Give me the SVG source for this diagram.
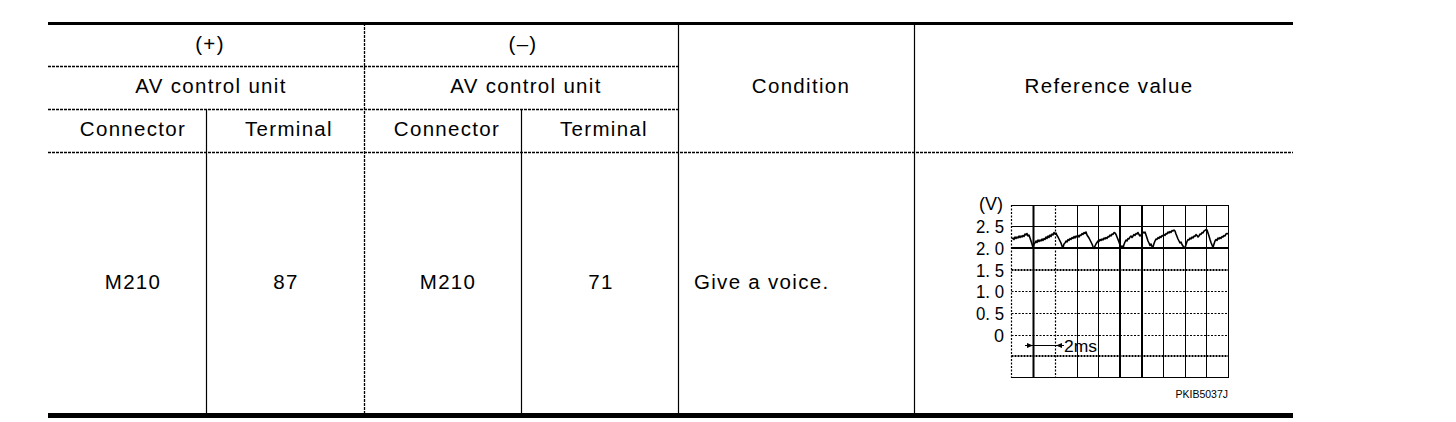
<svg xmlns="http://www.w3.org/2000/svg" width="1456" height="422" viewBox="0 0 1456 422">
<style>
.t{font-family:"Liberation Sans",Arial,sans-serif;font-size:20.5px;letter-spacing:1.3px;fill:#000;text-anchor:middle}
.l{text-anchor:start}
.ln{stroke:#000;stroke-width:1.2;fill:none}
.dot{stroke:#000;stroke-width:1.3;stroke-dasharray:3 1;fill:none}
.thick{stroke:#000;fill:none}
.g{stroke:#000;stroke-width:1;fill:none}
.gb{stroke:#000;stroke-width:2;fill:none}
.gd{stroke:#000;stroke-width:1.2;stroke-dasharray:2 1.5;fill:none}
.gdb{stroke:#000;stroke-width:2;stroke-dasharray:2 1;fill:none}
.ax{font-family:"Liberation Sans",Arial,sans-serif;font-size:18px;fill:#000;text-anchor:end}
</style>
<defs>
<marker id="ah" viewBox="0 0 10 10" refX="10" refY="5" markerWidth="6" markerHeight="6" orient="auto-start-reverse">
<path d="M0,1 L10,5 L0,9 z" fill="#000"/>
</marker>
</defs>
<rect width="1456" height="422" fill="#fff"/>
<g id="connectors">
<line class="thick" x1="48" y1="23.5" x2="1293" y2="23.5" stroke-width="3"/>
<line class="dot" x1="48" y1="66.5" x2="678" y2="66.5"/>
<line class="dot" x1="48" y1="109.5" x2="678" y2="109.5"/>
<line class="dot" x1="48" y1="152.5" x2="1293" y2="152.5"/>
<line class="thick" x1="48" y1="415.5" x2="1293" y2="415.5" stroke-width="5"/>
<line class="ln" x1="206.5" y1="109" x2="206.5" y2="413"/>
<line class="dot" x1="364.5" y1="23" x2="364.5" y2="413"/>
<line class="ln" x1="521.5" y1="109" x2="521.5" y2="413"/>
<line class="ln" x1="678.5" y1="23" x2="678.5" y2="413"/>
<line class="ln" x1="914.5" y1="23" x2="914.5" y2="413"/>
</g>
<g id="h-plus"><text class="t" x="210" y="51">(+)</text></g>
<g id="h-minus"><text class="t" x="523" y="51">(–)</text></g>
<g id="h-av1"><text class="t" x="211" y="93">AV control unit</text></g>
<g id="h-av2"><text class="t" x="526" y="93">AV control unit</text></g>
<g id="h-conn1"><text class="t" x="133" y="136">Connector</text></g>
<g id="h-term1"><text class="t" x="289" y="136">Terminal</text></g>
<g id="h-conn2"><text class="t" x="447" y="136">Connector</text></g>
<g id="h-term2"><text class="t" x="604" y="136">Terminal</text></g>
<g id="h-cond"><text class="t" x="801" y="93">Condition</text></g>
<g id="h-ref"><text class="t" x="1109" y="93">Reference value</text></g>
<g id="c-conn1"><text class="t" x="133" y="289">M210</text></g>
<g id="c-term1"><text class="t" x="286" y="289">87</text></g>
<g id="c-conn2"><text class="t" x="448" y="289">M210</text></g>
<g id="c-term2"><text class="t" x="601" y="289">71</text></g>
<g id="c-cond"><text class="t l" x="694" y="289">Give a voice.</text></g>
<g id="c-ref">
<g id="grid">
<line class="g" x1="1011.5" y1="205.5" x2="1228.5" y2="205.5"/>
<line class="g" x1="1011.5" y1="226.5" x2="1228.5" y2="226.5"/>
<line class="gb" x1="1011.5" y1="248" x2="1228.5" y2="248"/>
<line class="gdb" x1="1011.5" y1="270" x2="1228.5" y2="270"/>
<line class="gd" x1="1011.5" y1="291.5" x2="1228.5" y2="291.5"/>
<line class="gd" x1="1011.5" y1="313.5" x2="1228.5" y2="313.5"/>
<line class="gd" x1="1011.5" y1="335.5" x2="1228.5" y2="335.5"/>
<line class="gdb" x1="1011.5" y1="356" x2="1228.5" y2="356"/>
<line class="g" x1="1011.5" y1="377.5" x2="1228.5" y2="377.5"/>
<line class="gd" x1="1011.5" y1="205" x2="1011.5" y2="378"/>
<line class="gb" x1="1033.5" y1="205" x2="1033.5" y2="378"/>
<line class="gd" x1="1055.5" y1="205" x2="1055.5" y2="378"/>
<line class="g" x1="1077.5" y1="205" x2="1077.5" y2="378"/>
<line class="g" x1="1098.5" y1="205" x2="1098.5" y2="378"/>
<line class="gb" x1="1120" y1="205" x2="1120" y2="378"/>
<line class="gb" x1="1142" y1="205" x2="1142" y2="378"/>
<line class="g" x1="1163.5" y1="205" x2="1163.5" y2="378"/>
<line class="g" x1="1185.5" y1="205" x2="1185.5" y2="378"/>
<line class="g" x1="1206.5" y1="205" x2="1206.5" y2="378"/>
<line class="g" x1="1228.5" y1="205" x2="1228.5" y2="378"/>
</g>
<polyline fill="none" stroke="#000" stroke-width="1.6" stroke-linejoin="round" points="1012,239 1013,238 1014,239.5 1015,237 1016,238.5 1017,237 1018,238 1019,236 1020,237.5 1021,236 1022,237 1023,235.5 1024,236.5 1025,234 1026,235 1027,233.5 1028,236 1029,235 1030,238 1031,241 1032,244 1033,247.5 1034,244 1035,243 1036,241 1037,242.5 1038,240 1039,241.5 1040,240 1041,241 1042,239 1043,240.5 1044,238.5 1045,239.5 1046,237 1047,238.5 1048,236 1049,237.5 1050,235 1051,236.5 1052,234 1053,235 1054,232.5 1055,234 1056,233 1057,235.5 1058,237 1059,239 1060,241 1061,243 1062,246 1063,247.5 1064,244 1065,243 1066,241 1067,242 1068,239.5 1069,240.5 1070,238.5 1071,239.5 1072,237.5 1073,238.5 1074,236.5 1075,238 1076,236 1077,237 1078,235.5 1079,237 1080,235 1081,235.5 1082,233.5 1083,234.5 1084,232.5 1085,233.5 1086,232 1087,235 1088,236.5 1089,238 1090,240 1091,242 1092,244 1093,246.5 1094,248.5 1095,246 1096,244 1097,242.5 1098,241 1099,241.5 1100,239.5 1101,240.5 1102,239 1103,240 1104,238 1105,239 1106,237.5 1107,238.5 1108,236.5 1109,237 1110,235 1111,236 1112,234 1113,234.5 1114,232.5 1115,233 1116,234.5 1117,237 1118,239.5 1119,242 1120,245 1121,247.5 1122,246 1123,248 1124,244.5 1125,242 1126,240 1127,241 1128,238.5 1129,239 1130,237 1131,236 1132,237.5 1133,236 1134,234.5 1135,235.5 1136,233.5 1137,234 1138,232.5 1139,234.5 1140,236 1141,235 1142,233.5 1143,232 1144,233 1145,232 1146,235 1147,238 1148,241 1149,243 1150,245.5 1151,244 1152,246.5 1153,247 1154,243.5 1155,241 1156,239 1157,239.5 1158,237.5 1159,238.5 1160,236.5 1161,237.5 1162,235.5 1163,236 1164,234.5 1165,235.5 1166,233.5 1167,234 1168,232 1169,233 1170,231.5 1171,232.5 1172,230.5 1173,231 1174,230 1175,231 1176,234 1177,236.5 1178,239 1179,241 1180,243 1181,242 1182,244.5 1183,246 1184,247.5 1185,248 1186,244.5 1187,241.5 1188,239.5 1189,240 1190,238 1191,239 1192,237 1193,238 1194,236 1195,236.5 1196,234.5 1197,235.5 1198,237 1199,236 1200,234 1201,234.5 1202,232.5 1203,233 1204,231 1205,230.5 1206,229.5 1207,230 1208,233 1209,236 1210,239.5 1211,242.5 1212,245 1213,247.5 1214,244 1215,241 1216,239.5 1217,240.5 1218,238 1219,239 1220,237.5 1221,238.5 1222,236.5 1223,237 1224,235.5 1225,236 1226,234 1227,233.5 1228,234"/>
<g id="axis">
<text class="ax" x="1003" y="210" font-size="15">(V)</text>
<text class="ax" x="1004" y="232.5" textLength="28" lengthAdjust="spacingAndGlyphs">2. 5</text>
<text class="ax" x="1004" y="254.5" textLength="28" lengthAdjust="spacingAndGlyphs">2. 0</text>
<text class="ax" x="1004" y="276.5" textLength="28" lengthAdjust="spacingAndGlyphs">1. 5</text>
<text class="ax" x="1004" y="297.5" textLength="28" lengthAdjust="spacingAndGlyphs">1. 0</text>
<text class="ax" x="1004" y="319.5" textLength="28" lengthAdjust="spacingAndGlyphs">0. 5</text>
<text class="ax" x="1004" y="341.5">0</text>
</g>
<line x1="1025" y1="345.5" x2="1062" y2="345.5" stroke="#000" stroke-width="1"/>
<line x1="1025" y1="345.5" x2="1033" y2="345.5" stroke="#000" stroke-width="1" marker-end="url(#ah)"/>
<line x1="1064" y1="345.5" x2="1056" y2="345.5" stroke="#000" stroke-width="1" marker-end="url(#ah)"/>
<text x="1064" y="352" font-family="Liberation Sans, Arial, sans-serif" font-size="16" textLength="33" lengthAdjust="spacingAndGlyphs">2ms</text>
<text x="1228" y="398" font-family="Liberation Sans, Arial, sans-serif" font-size="10.5" text-anchor="end">PKIB5037J</text>
</g>
</svg>
